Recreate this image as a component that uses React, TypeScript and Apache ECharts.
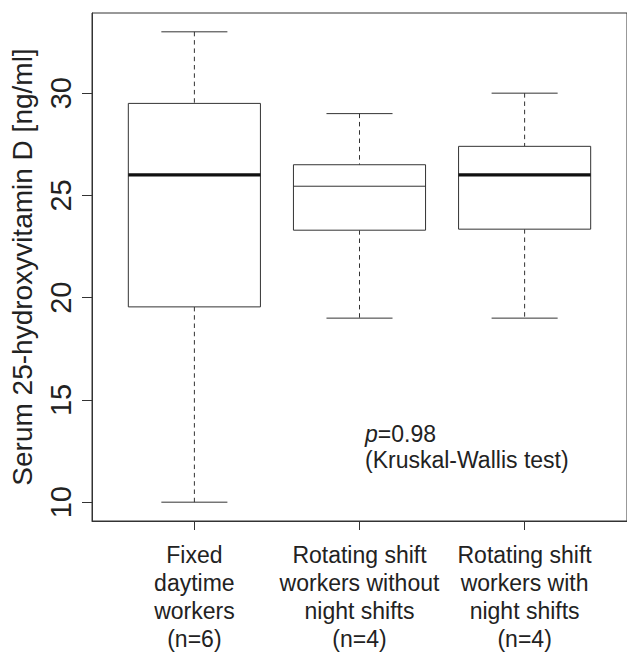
import React, { useEffect, useRef } from "react";
import * as echarts from "echarts";

const CATEGORIES = [
  "Fixed\ndaytime\nworkers\n(n=6)",
  "Rotating shift\nworkers without\nnight shifts\n(n=4)",
  "Rotating shift\nworkers with\nnight shifts\n(n=4)",
];
const POSITIONS = [1, 2, 3];
const MINS = [10, 19, 19];
const Q1S = [19.55, 23.3, 23.35];
const MEDIANS = [26, 25.45, 26];
const Q3S = [29.5, 26.5, 27.4];
const MAXS = [33, 29, 30];
const Y_TICKS = [10, 15, 20, 25, 30];
const Y_TITLE = "Serum 25-hydroxyvitamin D [ng/ml]";
const P_TEXT = "=0.98";
const TEST_TEXT = "(Kruskal-Wallis test)";

// styling (not data)
const MEDIAN_LINE_WIDTHS = [3.3, 1, 3.3];
const FONT = "'Liberation Sans', Arial, Helvetica, sans-serif";
const TEXT_COLOR = "#222";
const LINE_COLOR = "#333";

export default function App() {
  const ref = useRef<HTMLDivElement>(null);
  useEffect(() => {
    if (!ref.current) return;
    const chart = echarts.init(ref.current, undefined, { renderer: "svg" });
    const data = POSITIONS.map((p, i) => [p, MINS[i], Q1S[i], MEDIANS[i], Q3S[i], MAXS[i]]);
    chart.setOption({
      animation: false,
      backgroundColor: "#fff",
      grid: {
        left: 92,
        top: 13,
        width: 540,
        height: 508,
        show: true,
        borderColor: LINE_COLOR,
        borderWidth: 1,
      },
      xAxis: {
        type: "value",
        min: 0.38,
        max: 3.62,
        splitLine: { show: false },
        axisLine: { show: true, lineStyle: { color: LINE_COLOR, width: 1 } },
        axisTick: {
          show: true,
          length: 9,
          customValues: POSITIONS,
          lineStyle: { color: LINE_COLOR, width: 1 },
        },
        axisLabel: {
          customValues: POSITIONS,
          formatter: (v: number) => CATEGORIES[Math.round(v) - 1] ?? "",
          fontFamily: FONT,
          fontSize: 23,
          lineHeight: 28,
          color: TEXT_COLOR,
          margin: 20,
          align: "center",
        },
      },
      yAxis: {
        type: "value",
        min: 9.08,
        max: 33.92,
        splitLine: { show: false },
        axisLine: { show: true, lineStyle: { color: LINE_COLOR, width: 1 } },
        axisTick: {
          show: true,
          length: 10,
          customValues: Y_TICKS,
          lineStyle: { color: LINE_COLOR, width: 1 },
        },
        axisLabel: {
          customValues: Y_TICKS,
          rotate: 90,
          fontFamily: FONT,
          fontSize: 29,
          color: TEXT_COLOR,
          margin: 17,
        },
        name: Y_TITLE,
        nameLocation: "middle",
        nameGap: 56,
        nameRotate: 90,
        nameTextStyle: { fontFamily: FONT, fontSize: 28, color: TEXT_COLOR },
      },
      series: [
        {
          type: "custom",
          data,
          encode: { x: 0, y: [1, 2, 3, 4, 5] },
          renderItem: (params: any, api: any) => {
            const x = api.value(0);
            const lo = api.coord([x, api.value(1)]);
            const q1 = api.coord([x, api.value(2)]);
            const med = api.coord([x, api.value(3)]);
            const q3 = api.coord([x, api.value(4)]);
            const hi = api.coord([x, api.value(5)]);
            const cx = lo[0];
            const hb = api.size([0.8, 0])[0] / 2;
            const hc = api.size([0.4, 0])[0] / 2;
            const dash = { stroke: LINE_COLOR, lineWidth: 1, lineDash: [4.5, 3.8], fill: "none" };
            const solid = { stroke: LINE_COLOR, lineWidth: 1, fill: "none" };
            const mw = MEDIAN_LINE_WIDTHS[params.dataIndex] ?? 1;
            return {
              type: "group",
              children: [
                { type: "line", shape: { x1: cx, y1: hi[1], x2: cx, y2: q3[1] }, style: dash },
                { type: "line", shape: { x1: cx, y1: q1[1], x2: cx, y2: lo[1] }, style: dash },
                { type: "line", shape: { x1: cx - hc, y1: hi[1], x2: cx + hc, y2: hi[1] }, style: solid },
                { type: "line", shape: { x1: cx - hc, y1: lo[1], x2: cx + hc, y2: lo[1] }, style: solid },
                {
                  type: "rect",
                  shape: { x: cx - hb, y: q3[1], width: hb * 2, height: q1[1] - q3[1] },
                  style: { stroke: LINE_COLOR, lineWidth: 1, fill: "#fff" },
                },
                {
                  type: "line",
                  shape: { x1: cx - hb, y1: med[1], x2: cx + hb, y2: med[1] },
                  style: { stroke: mw > 1 ? "#111" : LINE_COLOR, lineWidth: mw },
                },
              ],
            };
          },
        },
      ],
      graphic: [
        {
          type: "text",
          x: 365,
          y: 434,
          style: {
            text: "{i|p}" + P_TEXT,
            fill: TEXT_COLOR,
            font: `23px ${FONT}`,
            verticalAlign: "middle",
            rich: {
              i: { fontStyle: "italic", fontSize: 23, fontFamily: FONT, fill: TEXT_COLOR },
            },
          },
        },
        {
          type: "text",
          x: 365,
          y: 460,
          style: {
            text: TEST_TEXT,
            fill: TEXT_COLOR,
            font: `23px ${FONT}`,
            verticalAlign: "middle",
          },
        },
      ],
    });
    return () => chart.dispose();
  }, []);
  return (
    <div
      ref={ref}
      style={{ position: "absolute", left: 0, top: 0, width: 627, height: 654 }}
    />
  );
}
